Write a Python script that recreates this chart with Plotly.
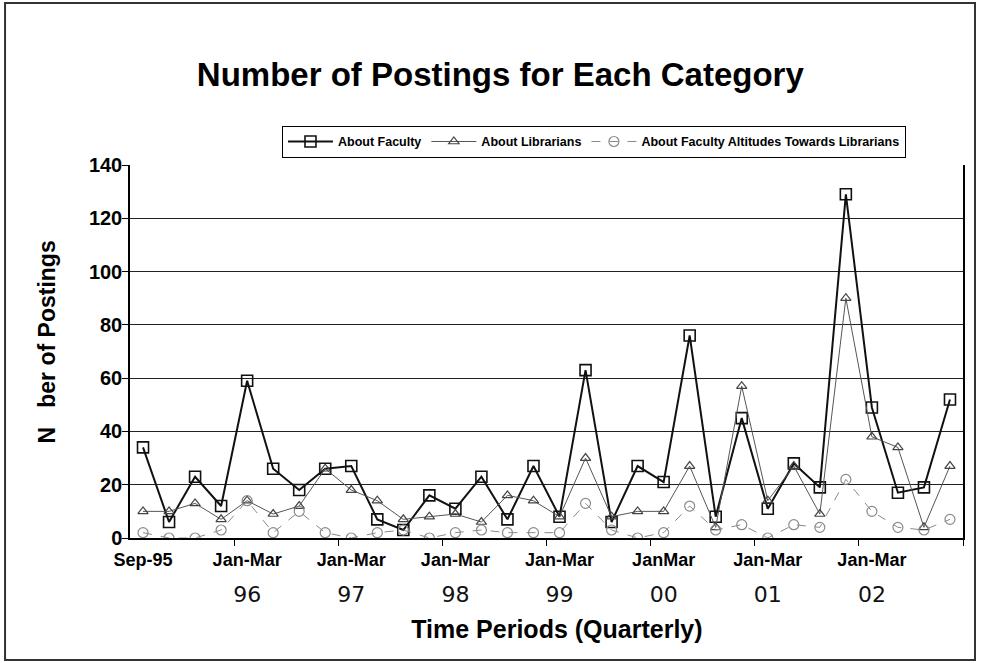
import plotly.graph_objects as go

# ---- data ----
periods = list(range(32))  # quarterly periods starting Sep-95
label_positions = [0, 4, 8, 12, 16, 20, 24, 28]
top_labels = ["Sep-95", "Jan-Mar", "Jan-Mar", "Jan-Mar", "Jan-Mar", "JanMar", "Jan-Mar", "Jan-Mar"]
year_positions = [4, 8, 12, 16, 20, 24, 28]
year_labels = ["96", "97", "98", "99", "00", "01", "02"]
boundary_ticks = [3.5, 7.5, 11.5, 15.5, 19.5, 23.5, 27.5, 31.5]

about_faculty = [34, 6, 23, 12, 59, 26, 18, 26, 27, 7, 3, 16, 11, 23, 7, 27,
                 8, 63, 6, 27, 21, 76, 8, 45, 11, 28, 19, 129, 49, 17, 19, 52]
about_librarians = [10, 10, 13, 7, 14, 9, 12, 26, 18, 14, 7, 8, 9, 6, 16, 14,
                    8, 30, 8, 10, 10, 27, 4, 57, 14, 27, 9, 90, 38, 34, 4, 27]
about_attitudes = [2, 0, 0, 3, 14, 2, 10, 2, 0, 2, 3, 0, 2, 3, 2, 2,
                   2, 13, 3, 0, 2, 12, 3, 5, 0, 5, 4, 22, 10, 4, 3, 7]

FONT = "Liberation Sans, Arial, sans-serif"

fig = go.Figure()
fig.add_trace(go.Scatter(
    x=periods, y=about_faculty, name="About Faculty", mode="lines+markers",
    line=dict(color="#111111", width=2),
    marker=dict(symbol="square-open", size=11, color="#111111", line=dict(width=1.6)),
))
fig.add_trace(go.Scatter(
    x=periods, y=about_librarians, name="About Librarians", mode="lines+markers",
    line=dict(color="#555555", width=1),
    marker=dict(symbol="triangle-up-open", size=9, color="#444444", line=dict(width=1.2)),
))
fig.add_trace(go.Scatter(
    x=periods, y=about_attitudes, name="About Faculty Altitudes Towards Librarians",
    mode="lines+markers",
    line=dict(color="#8a8a8a", width=1, dash="dash"),
    marker=dict(symbol="circle-open", size=10, color="#8a8a8a", line=dict(width=1.2)),
))
# invisible trace carrying the second row of x labels (years)
fig.add_trace(go.Scatter(x=periods, y=about_faculty, xaxis="x2", showlegend=False,
                         mode="none", hoverinfo="skip"))

fig.update_layout(
    width=981, height=663,
    paper_bgcolor="white", plot_bgcolor="white",
    margin=dict(l=130, r=18, t=165, b=125),
    font=dict(family=FONT, color="black"),
    title=dict(text="<b>Number of Postings for Each Category</b>",
               x=0.51, xanchor="center", y=0.887, yanchor="middle",
               font=dict(size=33, family=FONT, color="black")),
    showlegend=True,
    legend=dict(orientation="h", x=0.557, xanchor="center", y=1.062, yanchor="middle",
                bordercolor="black", borderwidth=1, bgcolor="white",
                font=dict(size=12.5, family=FONT, color="black", weight="bold"),
                itemwidth=45, tracegroupgap=0),
    xaxis=dict(
        range=[-0.5, 31.5], showgrid=False, zeroline=False,
        showline=True, linecolor="black", linewidth=1.5,
        tickmode="array", tickvals=label_positions, ticktext=top_labels,
        ticks="", tickfont=dict(size=18, family=FONT, color="black", weight="bold"),
        ticklabelstandoff=5,
        minor=dict(tickmode="array", tickvals=boundary_ticks, ticks="outside",
                   ticklen=6, tickcolor="black", tickwidth=1),
        title=dict(text="&nbsp;&nbsp;&nbsp;<b>Time Periods (Quarterly)</b>", standoff=51,
                   font=dict(size=25, family=FONT, color="black")),
    ),
    xaxis2=dict(
        overlaying="x", side="bottom", range=[-0.5, 31.5], showgrid=False,
        zeroline=False, showline=False, tickmode="array", tickvals=year_positions,
        ticktext=year_labels, ticks="", ticklabelstandoff=41,
        tickfont=dict(size=22, family="DejaVu Sans, sans-serif", color="#111111"),
    ),
    yaxis=dict(
        range=[0, 140], tickmode="array", tickvals=[0, 20, 40, 60, 80, 100, 120, 140],
        showgrid=True, gridcolor="#222222", gridwidth=1.3, zeroline=False,
        showline=True, linecolor="black", linewidth=1.5, mirror=True,
        ticks="outside", ticklen=6, tickcolor="black", ticklabelstandoff=-4,
        tickfont=dict(size=20, family=FONT, color="black", weight="bold"),
        title=dict(text="&nbsp;&nbsp;&nbsp;<b>N&nbsp;&nbsp;&nbsp;ber of Postings</b>",
                   standoff=27, font=dict(size=23, family=FONT, color="black")),
    ),
    shapes=[dict(type="rect", xref="paper", yref="paper",
                 x0=-0.150, x1=1.0144, y0=-0.327, y1=1.434,
                 line=dict(color="#333333", width=2), fillcolor="rgba(0,0,0,0)",
                 layer="below")],
)

fig.write_html("out.html", config={"displayModeBar": False},
               post_script="document.body.style.margin='0';")
